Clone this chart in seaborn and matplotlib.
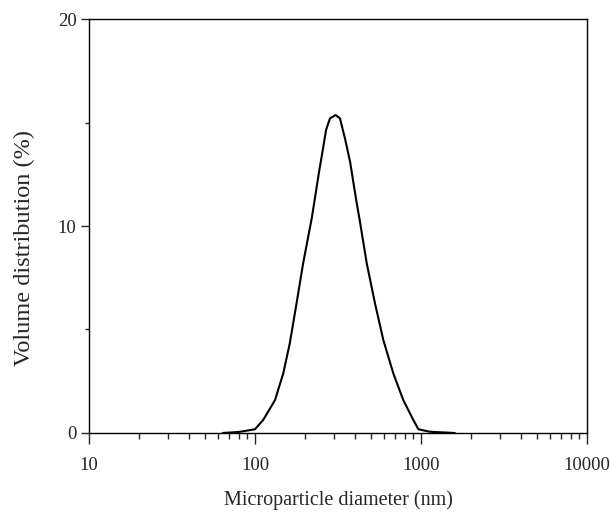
import numpy as np
import pandas as pd
import matplotlib
matplotlib.use("Agg")
import matplotlib.pyplot as plt
import seaborn as sns
from matplotlib.ticker import LogLocator, FixedLocator, NullFormatter

# values
diameter_nm = [64, 80, 100, 112, 132, 148, 162, 178, 195, 220, 243, 257, 268,
               283, 306, 325, 349, 374, 410, 429, 471, 528, 593, 681, 782,
               899, 964, 1130, 1600]
volume_pct = [0.0, 0.05, 0.18, 0.63, 1.59, 2.88, 4.33, 6.27, 8.2, 10.4, 12.6, 13.75, 14.64,
              15.2, 15.36, 15.2, 14.2, 13.1, 11.1, 10.2, 8.2, 6.27, 4.49, 2.88, 1.59,
              0.63, 0.18, 0.06, 0.0]

x_ticks = [10, 100, 1000, 10000]
x_tick_labels = ["10", "100", "1000", "10000"]
y_major = [0, 10, 20]
y_minor = [5, 15]

sns.set_theme(style="ticks")
plt.rcParams["font.family"] = ["Liberation Serif", "DejaVu Serif"]

df = pd.DataFrame({"d": diameter_nm, "v": volume_pct})

fig = plt.figure(figsize=(6.1, 5.14), dpi=100)
ax = fig.add_axes([0.1459, 0.1576, 0.8164, 0.8054])

sns.lineplot(data=df, x="d", y="v", ax=ax, color="black", linewidth=1.5)

ax.set_xscale("log")
ax.set_xlim(10, 10000)
ax.set_ylim(0, 20)
ax.set_xticks(x_ticks)
ax.set_xticklabels(x_tick_labels)
ax.xaxis.set_minor_locator(LogLocator(base=10, subs=np.arange(2, 10)))
ax.xaxis.set_minor_formatter(NullFormatter())
ax.set_yticks(y_major)
ax.set_yticklabels([str(v) for v in y_major])
ax.yaxis.set_minor_locator(FixedLocator(y_minor))

ax.tick_params(axis="x", which="major", length=8, width=1, pad=9, labelsize=13.5)
ax.tick_params(axis="x", which="minor", length=4, width=1)
ax.tick_params(axis="y", which="major", length=6, width=1, pad=3, labelsize=13.5)
ax.tick_params(axis="y", which="minor", length=3, width=1)

for s in ax.spines.values():
    s.set_visible(True)
    s.set_linewidth(1.0)
    s.set_color("black")

ax.set_xlabel("Microparticle diameter (nm)", fontsize=14.5, labelpad=12)
ax.set_ylabel("Volume distribution (%)", fontsize=17.5, va="center")
ax.yaxis.set_label_coords(-0.13, 0.447)

fig.savefig("out.png", dpi=100)
